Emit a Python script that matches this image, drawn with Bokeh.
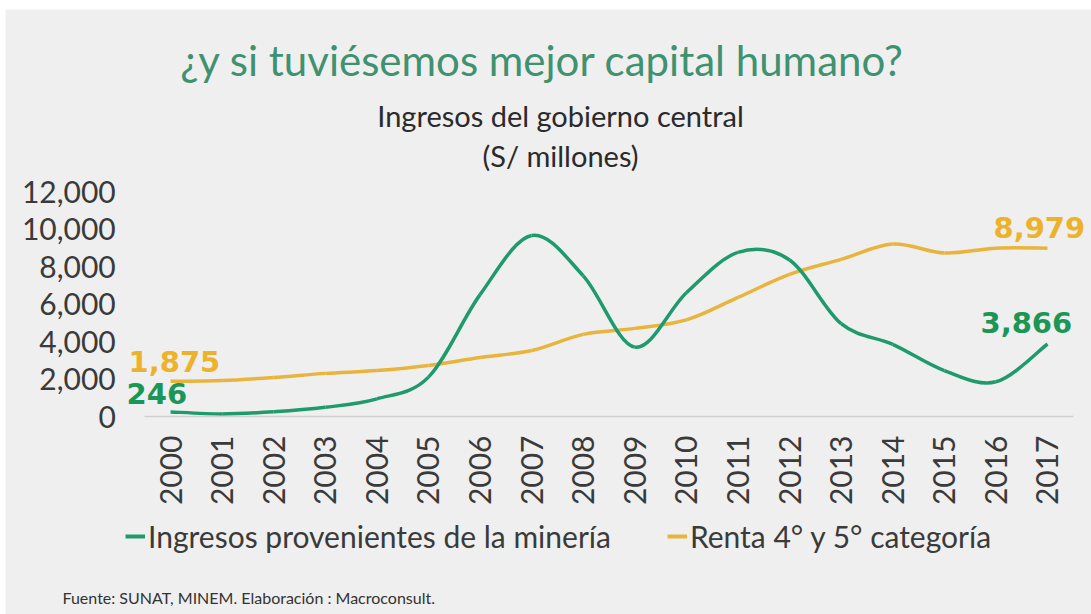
import math
from bokeh.plotting import figure
from bokeh.models import (Range1d, FixedTicker, NumeralTickFormatter, Label,
                          Legend, LegendItem, ColumnDataSource, LinearAxis)
from bokeh.embed import file_html
from bokeh.resources import INLINE

# ---- data ----
years = list(range(2000, 2018))
mineria = [246, 140, 250, 490, 940, 2100, 6500, 9650, 7500, 3700,
           6600, 8750, 8350, 4950, 3850, 2450, 1850, 3866]
renta = [1875, 1920, 2080, 2300, 2450, 2720, 3150, 3520, 4380, 4700,
         5150, 6350, 7580, 8380, 9200, 8720, 8980, 8979]
y_ticks = [0, 2000, 4000, 6000, 8000, 10000, 12000]

title_txt = "¿y si tuviésemos mejor capital humano?"
sub1 = "Ingresos del gobierno central"
sub2 = "(S/ millones)"
source_txt = "Fuente: SUNAT, MINEM. Elaboración : Macroconsult."
name_min = "Ingresos provenientes de la minería"
name_ren = "Renta 4° y 5° categoría"

GREEN = "#1f9a6c"
YELLOW = "#e9b43c"
GREEN_LBL = "#1a9657"
YELLOW_LBL = "#ecb22c"
TITLE_GREEN = "#3f9270"
BG = "#efefef"
TXT = "#3a3a3a"
FONT = "Lato"

FIG_W, FIG_H = 1086, 605

p = figure(output_backend="svg", toolbar_location=None,
           width=FIG_W, height=FIG_H, margin=(9, 0, 0, 5),
           min_border=0, x_axis_location=None, y_axis_location=None,
           x_range=Range1d(1996.80, 2017.853), y_range=Range1d(-10560, 21707))
p.background_fill_color = BG
p.border_fill_color = BG
p.outline_line_color = None
p.grid.visible = False

# x axis pinned at y = 0
xax = LinearAxis(fixed_location=0, bounds=(1999.5, 2017.5),
                 ticker=FixedTicker(ticks=years))
xax.major_label_orientation = math.pi / 2
xax.axis_line_color = "#cfcfcf"
xax.axis_line_width = 1.5
xax.major_tick_line_color = None
xax.minor_tick_line_color = None
xax.major_tick_out = 0
xax.major_tick_in = 0
xax.major_label_standoff = 19
xax.major_label_text_font = FONT
xax.major_label_text_font_size = "30px"
xax.major_label_text_color = TXT
p.add_layout(xax, "below")

# y axis pinned at the left edge of the plotting area
yax = LinearAxis(fixed_location=1999.5, ticker=FixedTicker(ticks=y_ticks),
                 formatter=NumeralTickFormatter(format="0,0"))
yax.axis_line_color = None
yax.major_tick_line_color = None
yax.minor_tick_line_color = None
yax.major_tick_out = 0
yax.major_tick_in = 0
yax.major_label_standoff = 29
yax.major_label_text_font = FONT
yax.major_label_text_font_size = "30px"
yax.major_label_text_color = TXT
p.add_layout(yax, "left")


def smooth_segments(xs, ys):
    n = len(xs)
    d = dict(x0=[], y0=[], x1=[], y1=[], cx0=[], cy0=[], cx1=[], cy1=[])
    for i in range(n - 1):
        xm, ym = (xs[i - 1], ys[i - 1]) if i > 0 else (xs[i], ys[i])
        xp, yp = (xs[i + 2], ys[i + 2]) if i + 2 < n else (xs[i + 1], ys[i + 1])
        d["x0"].append(xs[i]); d["y0"].append(ys[i])
        d["x1"].append(xs[i + 1]); d["y1"].append(ys[i + 1])
        d["cx0"].append(xs[i] + (xs[i + 1] - xm) / 6)
        d["cy0"].append(ys[i] + (ys[i + 1] - ym) / 6)
        d["cx1"].append(xs[i + 1] - (xp - xs[i]) / 6)
        d["cy1"].append(ys[i + 1] - (yp - ys[i]) / 6)
    return ColumnDataSource(d)


for vals, col in ((renta, YELLOW), (mineria, GREEN)):
    p.bezier(x0="x0", y0="y0", x1="x1", y1="y1", cx0="cx0", cy0="cy0",
             cx1="cx1", cy1="cy1", source=smooth_segments(years, vals),
             line_color=col, line_width=3.5)

# legend proxies (single point -> draws nothing in the plot)
leg_min = p.line(x=years[:1], y=mineria[:1], line_color=GREEN, line_width=4)
leg_ren = p.line(x=years[:1], y=renta[:1], line_color=YELLOW, line_width=4)
legend = Legend(items=[LegendItem(label=name_min, renderers=[leg_min]),
                       LegendItem(label=name_ren, renderers=[leg_ren])],
                orientation="horizontal", location=(120, 60),
                label_text_font=FONT, label_text_font_size="30px",
                label_text_color=TXT, glyph_width=20, glyph_height=20,
                label_standoff=3, spacing=56, padding=0, margin=0,
                border_line_alpha=0, background_fill_alpha=0)
p.add_layout(legend, "center")

# end-point value labels
def vlabel(x, y, txt, col, dx, dy):
    p.add_layout(Label(x=x, y=y, text=txt, x_offset=dx, y_offset=dy,
                       text_color=col, text_font="DejaVu Sans",
                       text_font_style="bold", text_font_size="29px",
                       text_baseline="middle", text_align="left"))

vlabel(years[0], renta[0], f"{renta[0]:,}", YELLOW_LBL, -42, 20)
vlabel(years[0], mineria[0], f"{mineria[0]:,}", GREEN_LBL, -44, 18)
vlabel(years[-1], renta[-1], f"{renta[-1]:,}", YELLOW_LBL, -54, 21)
vlabel(years[-1], mineria[-1], f"{mineria[-1]:,}", GREEN_LBL, -67, 22)

# titles and source (screen units from the bottom-left of the figure)
def slabel(x, y, txt, size, col, align="center"):
    p.add_layout(Label(x=x, y=y, x_units="screen", y_units="screen", text=txt,
                       text_font=FONT, text_font_size=size, text_color=col,
                       text_align=align, text_baseline="middle"))

slabel(537, 555, title_txt, "42px", TITLE_GREEN)
slabel(555, 499, sub1, "29px", "#2a2a2a")
slabel(555, 459, sub2, "29px", "#2a2a2a")
slabel(57, 17, source_txt, "16px", "#333333", align="left")

open("out.html", "w").write(file_html(p, INLINE))
